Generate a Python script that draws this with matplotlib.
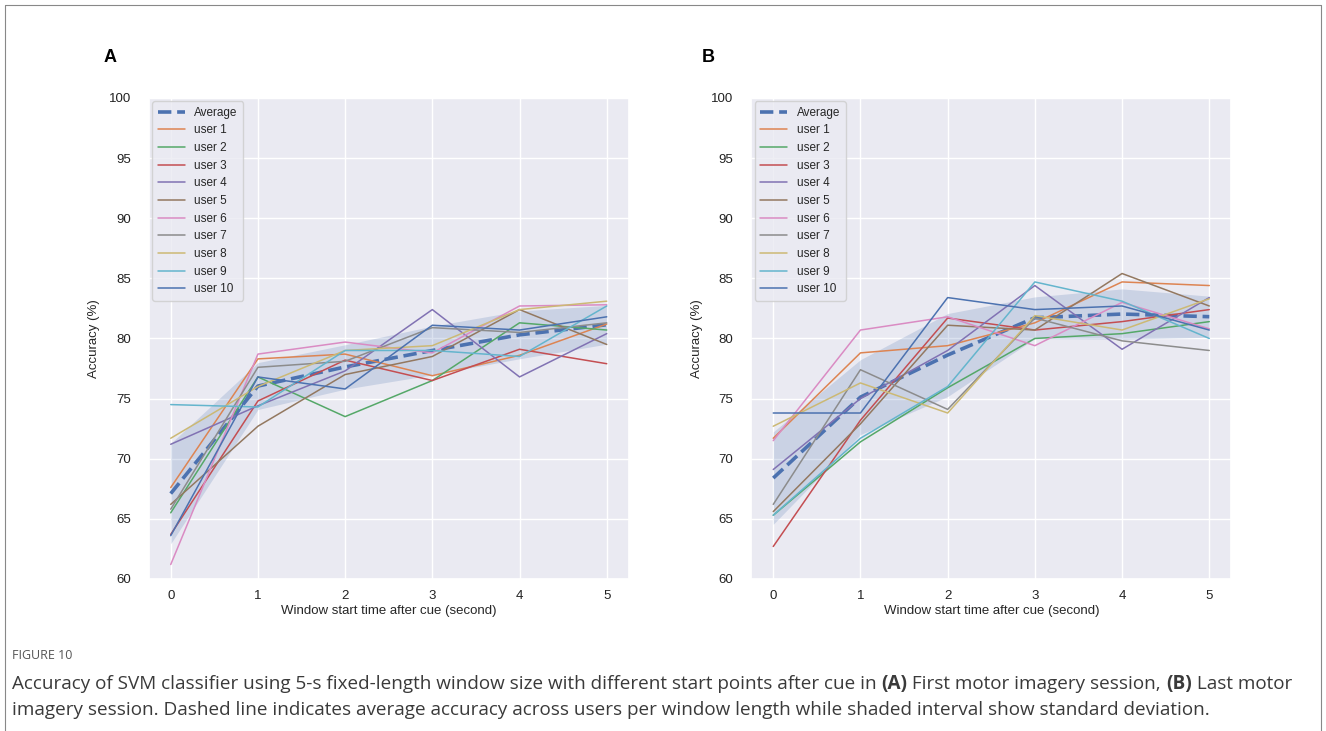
import numpy as np
import matplotlib
matplotlib.use('Agg')
import seaborn as sns
from matplotlib import pyplot as plt
from matplotlib.lines import Line2D

#data
starts = [0, 1, 2, 3, 4, 5]
users = ['user 1', 'user 2', 'user 3', 'user 4', 'user 5',
         'user 6', 'user 7', 'user 8', 'user 9', 'user 10']

#panel A - first motor imagery session
acc_a = [
    [67.6, 78.3, 78.7, 76.9, 78.6, 81.2],
    [65.5, 76.8, 73.5, 76.5, 81.3, 80.7],
    [63.7, 74.8, 78.2, 76.5, 79.1, 77.9],
    [71.2, 74.4, 77.3, 82.4, 76.8, 80.4],
    [66.2, 72.7, 77.0, 78.5, 82.4, 79.5],
    [61.2, 78.7, 79.7, 78.8, 82.7, 82.8],
    [65.8, 77.6, 78.1, 80.9, 80.5, 81.3],
    [71.7, 76.0, 79.0, 79.4, 82.4, 83.1],
    [74.5, 74.3, 79.0, 79.0, 78.5, 82.7],
    [63.6, 76.8, 75.8, 81.1, 80.7, 81.8],
]

#panel B - last motor imagery session
acc_b = [
    [71.7, 78.8, 79.4, 81.3, 84.7, 84.4],
    [65.3, 71.4, 75.9, 80.0, 80.4, 81.4],
    [62.7, 73.2, 81.7, 80.7, 81.4, 82.4],
    [69.1, 75.0, 79.0, 84.4, 79.1, 83.4],
    [65.6, 72.9, 81.1, 80.7, 85.4, 82.7],
    [71.5, 80.7, 81.8, 79.4, 83.0, 80.8],
    [66.2, 77.4, 74.1, 81.7, 79.8, 79.0],
    [72.7, 76.3, 73.8, 81.9, 80.7, 83.3],
    [65.3, 71.7, 76.0, 84.7, 83.1, 80.0],
    [73.8, 73.8, 83.4, 82.4, 82.7, 80.7],
]

sns.set_theme(style='darkgrid')
plt.rcParams['font.family'] = ['Liberation Sans', 'DejaVu Sans']
pal = sns.color_palette('deep')

fig = plt.figure(figsize=(13.26, 7.31), dpi=100)
ax_a = fig.add_axes([0.1123, 0.208, 0.3617, 0.658])
ax_b = fig.add_axes([0.5667, 0.208, 0.3617, 0.658])


def draw_panel(ax, acc):
    vals = np.array(acc)
    mean = vals.mean(axis=0)
    sd = vals.std(axis=0, ddof=1)
    ax.fill_between(starts, mean - sd, mean + sd, color=pal[0], alpha=0.2, lw=0)
    ax.plot(starts, mean, '--', color=pal[0], lw=2.6, label='Average')
    for i, name in enumerate(users):
        ax.plot(starts, vals[i], color=pal[(i + 1) % 10], lw=1.1, label=name)
    ax.set_ylim(60, 100)
    ax.set_xlim(-0.25, 5.25)
    ax.set_xticks(starts)
    ax.set_yticks(range(60, 101, 5))
    ax.tick_params(labelsize=9.5, colors='#222222')
    ax.tick_params(axis='x', pad=2)
    ax.tick_params(axis='y', pad=7)
    ax.set_xlabel('Window start time after cue (second)', fontsize=9.5, labelpad=2)
    ax.set_ylabel('Accuracy (%)', fontsize=9.5, labelpad=6)
    ax.legend(loc='upper left', fontsize=8.5, handlelength=2.3,
              labelspacing=0.48, borderpad=0.45, borderaxespad=0.3)


draw_panel(ax_a, acc_a)
draw_panel(ax_b, acc_b)

fig.text(0.078, 0.915, 'A', fontsize=13, fontweight='bold', color='black')
fig.text(0.529, 0.915, 'B', fontsize=13, fontweight='bold', color='black')

#frame around figure
for xs, ys in [([0.004, 0.004], [0.0, 0.993]), ([0.004, 0.996], [0.993, 0.993]),
               ([0.996, 0.996], [0.0, 0.993])]:
    fig.add_artist(Line2D(xs, ys, color='#888888', lw=0.8))

#caption
fig.text(0.009, 0.098, 'FIGURE 10', fontsize=9, color='#555555', family='Open Sans')
renderer = fig.canvas.get_renderer()


def rich_line(x, y, parts):
    for s, w in parts:
        t = fig.text(x, y, s, fontsize=13.6, fontweight=w, color='#3a3a3a',
                     family='Open Sans')
        x += t.get_window_extent(renderer).width / fig.bbox.width


rich_line(0.009, 0.058, [
    ('Accuracy of SVM classifier using 5-s fixed-length window size with different start points after cue in ', 'normal'),
    ('(A)', 'bold'), (' First motor imagery session, ', 'normal'),
    ('(B)', 'bold'), (' Last motor', 'normal')])
rich_line(0.009, 0.022, [
    ('imagery session. Dashed line indicates average accuracy across users per window length while shaded interval show standard deviation.', 'normal')])

fig.savefig('out.png', dpi=100)
